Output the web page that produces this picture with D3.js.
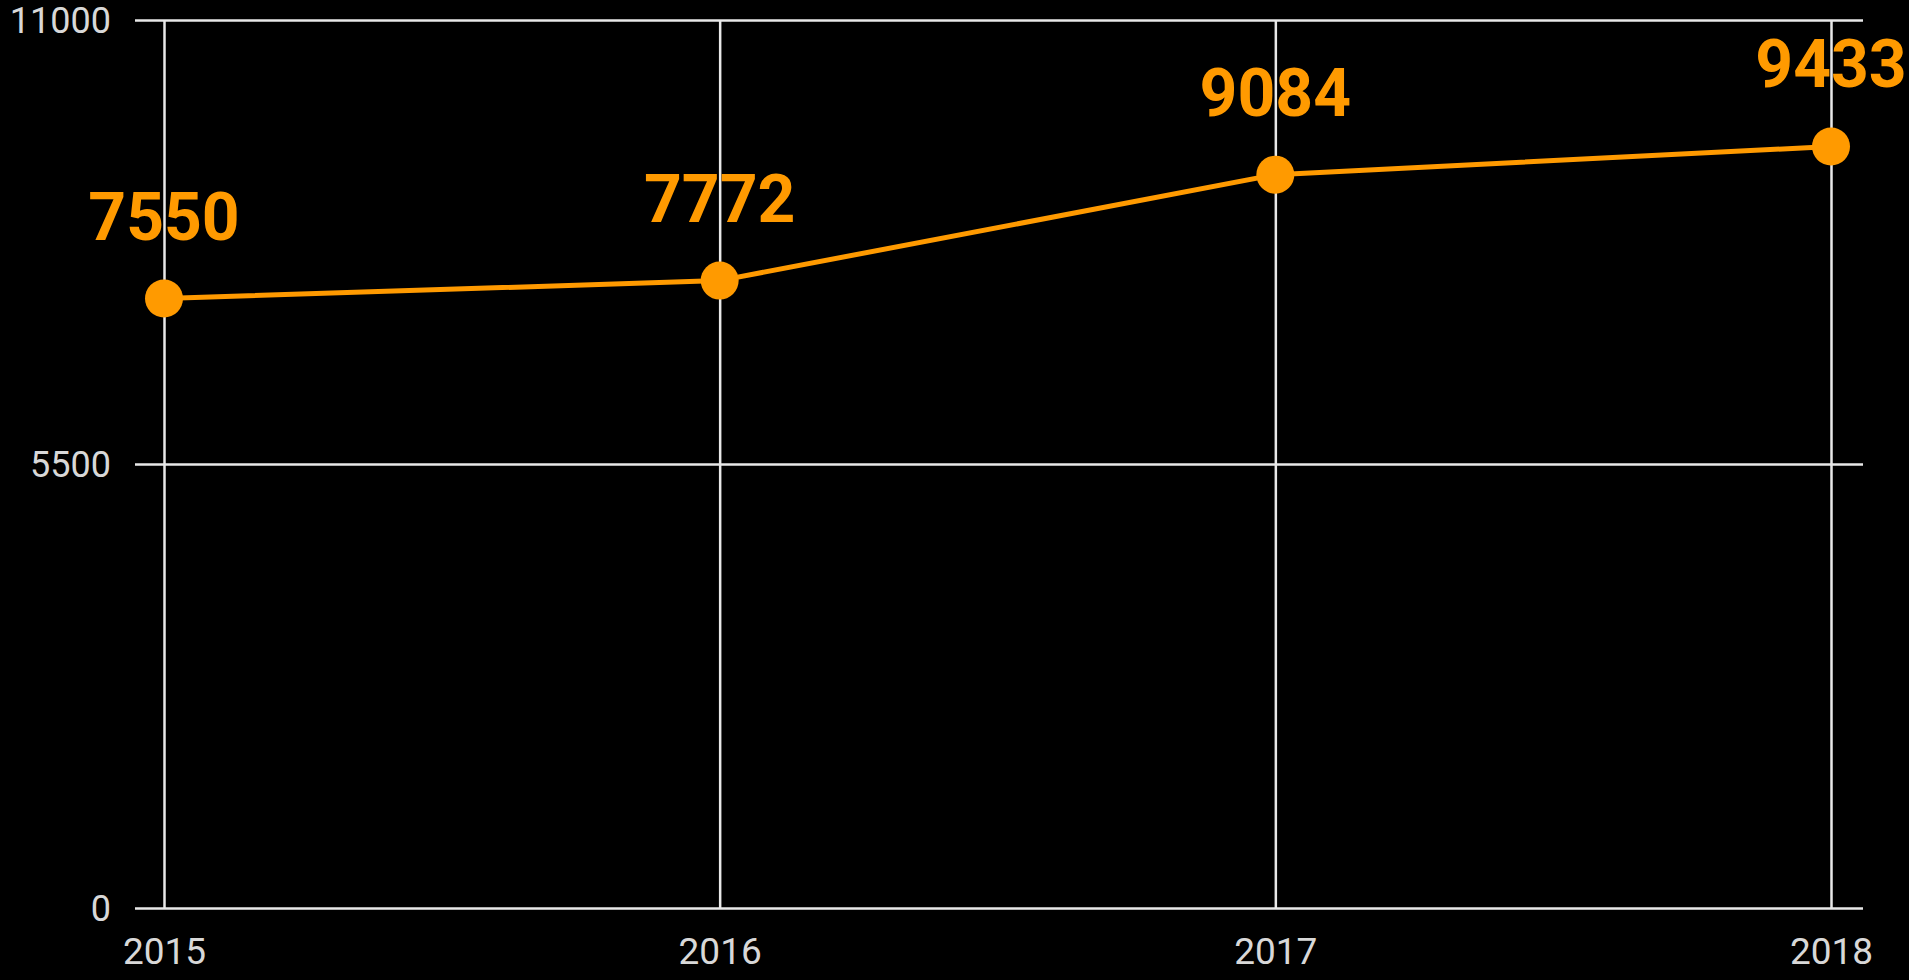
<!DOCTYPE html>
<html>
<head>
<meta charset="utf-8">
<script src="https://cdn.jsdelivr.net/npm/d3@7"></script>
<style>
  html, body { margin: 0; padding: 0; background: #000; }
  svg { display: block; }
</style>
</head>
<body>
<svg id="chart" width="1909" height="980"></svg>
<script>
const years = ["2015", "2016", "2017", "2018"];
const values = [7550, 7772, 9084, 9433];
const yTicks = [0, 5500, 11000];

(function () {
const W = 1909, H = 980;
const mLeft = 164, mRight = 1831, mTop = 20, mBottom = 908;
const svg = d3.select("#chart").attr("width", W).attr("height", H);
svg.append("rect").attr("width", W).attr("height", H).attr("fill", "#000");

const x = d3.scalePoint().domain(years).range([mLeft, mRight]);
const y = d3.scaleLinear().domain([0, 11000]).range([mBottom, mTop]);

// horizontal gridlines via y axis
const gridStart = mLeft - 29, gridEnd = mRight + 32;
const yAxis = d3.axisLeft(y).tickValues(yTicks).tickSize(-(gridEnd - gridStart)).tickFormat(d3.format("d"));
const gy = svg.append("g").attr("transform", `translate(${gridStart},0)`).call(yAxis);
gy.select(".domain").remove();
gy.selectAll(".tick line").attr("stroke", "#e8e8e8").attr("stroke-width", 2.5);
gy.selectAll(".tick text").attr("fill", "#d8d8d8").attr("font-family", "Roboto, sans-serif").attr("font-size", 36).attr("dy", "0.36em").attr("x", -24);

// vertical gridlines via x axis
const xAxis = d3.axisBottom(x).tickSize(-(mBottom - mTop));
const gx = svg.append("g").attr("transform", `translate(0,${mBottom})`).call(xAxis);
gx.select(".domain").remove();
gx.selectAll(".tick line").attr("stroke", "#e8e8e8").attr("stroke-width", 2.5);
gx.selectAll(".tick text").attr("fill", "#d8d8d8").attr("font-family", "Roboto, sans-serif").attr("font-size", 37).attr("dy", "0.75em").attr("y", 28);

const data = years.map((yr, i) => ({ yr, v: values[i] }));
const orange = "#ff9a00";

svg.append("path").datum(data)
  .attr("fill", "none").attr("stroke", orange).attr("stroke-width", 5)
  .attr("d", d3.line().x(d => x(d.yr)).y(d => y(d.v)));

svg.selectAll("circle.pt").data(data).enter().append("circle")
  .attr("class", "pt").attr("cx", d => x(d.yr)).attr("cy", d => y(d.v)).attr("r", 19).attr("fill", orange);

svg.selectAll("text.val").data(data).enter().append("text")
  .attr("class", "val").attr("x", d => x(d.yr)).attr("y", d => y(d.v) - 59)
  .attr("text-anchor", "middle").attr("font-family", "Roboto, sans-serif").attr("font-weight", "bold")
  .attr("font-size", 66).attr("fill", orange)
  .text(d => d.v);
})();
</script>
</body>
</html>
